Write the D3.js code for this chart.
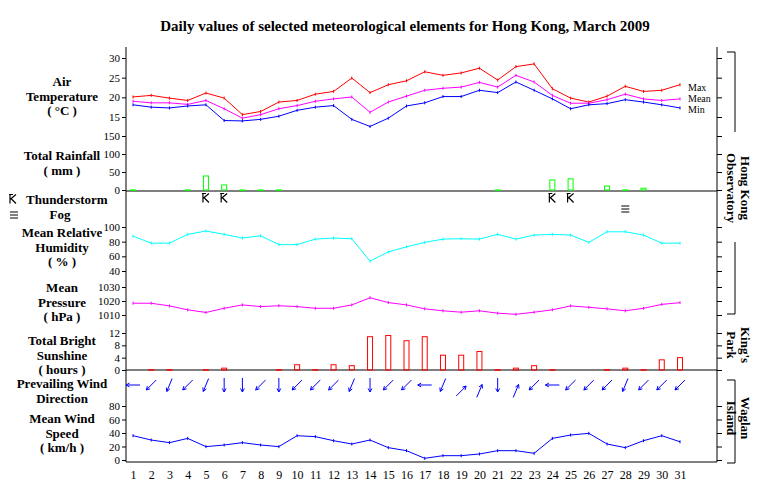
<!DOCTYPE html>
<html><head><meta charset="utf-8">
<script src="https://cdn.jsdelivr.net/npm/d3@7"></script>
<style>body{margin:0;background:#fff}text{font-family:"Liberation Serif",serif}</style>
</head><body><svg id="c" width="760" height="487"></svg>
<script>
const days = d3.range(1, 32);
const tMax = [20.1,20.5,19.8,19.2,21.1,19.8,15.6,16.4,18.8,19.2,20.8,21.5,24.9,21.2,23.2,24.2,26.5,25.6,26.2,27.4,24.4,27.8,28.5,22.2,19.8,18.8,20.3,22.8,21.5,21.8,23.2];
const tMean = [19.0,18.6,18.6,18.2,19.2,17.1,14.7,15.6,17.1,17.9,19.0,19.6,20.1,16.2,18.8,20.3,21.8,22.3,22.6,23.8,22.6,25.6,23.9,20.5,18.5,18.5,19.4,20.8,19.6,19.2,19.6];
const tMin = [18.1,17.5,17.3,17.8,18.1,14.1,14.0,14.4,15.2,16.7,17.5,17.9,14.4,12.6,14.7,17.8,18.6,20.2,20.2,21.8,21.2,23.9,21.8,19.6,17.1,18.1,18.4,19.4,18.8,18.1,17.3];
const rain = [0.3,0,0,0.3,39,14,0.1,0.1,0.3,0,0,0,0,0,0,0,0,0,0,0,0.1,0,0,28,31,0,11,0.3,5,0,0];
const thunderDays = [5,6,24,25];
const fogDays = [28];
const humidity = [87.6,78,78,90,94.5,90,85,88,76,76,83.5,85,84,53.5,66,73,79,83.5,84,83.5,90,83.5,89,90,89,79,93.5,93.5,89,78,78];
const pressure = [1018.4,1018.4,1016.5,1013.7,1011.8,1014.8,1017.2,1016,1016.6,1016,1014.8,1014.8,1017.2,1022.3,1018.9,1017.2,1014.4,1013,1012,1013,1011.3,1010.5,1012,1013.7,1016.5,1015.5,1014.4,1013,1014.8,1017.6,1018.8];
const sunshine = [0,0.1,0.1,0,0.1,0.6,0,0,0.1,1.7,0.1,1.7,1.4,10.8,11.2,9.5,10.8,4.8,4.8,6.0,0.1,0.6,1.4,0.1,0,0,0.1,0.6,0.1,3.3,4.0];
// direction wind blows from, degrees
const windDir = [90,45,22.5,45,22.5,0,0,45,0,45,45,45,22.5,0,45,45,90,22.5,225,202.5,0,202.5,45,90,45,45,45,22.5,45,45,45];
const windSpeed = [36,29.6,25.7,32,19.8,22.2,25.7,22.2,19.8,36,34.6,28.6,23.7,29.6,18.3,13.8,2.5,6.4,6.4,8.9,13.8,13.8,9.9,32,37,39.5,23.7,18.3,28.6,36,27];

const tempTicks = [15,20,25,30], rainTicks = [0,50,100,150], humTicks = [40,60,80,100],
  presTicks = [1010,1020,1030], sunTicks = [0,4,8,12], windTicks = [0,20,40,60,80];

const svg = d3.select("#c");
const L = 126, R = 717;
const x = d3.scaleLinear().domain([1, 31]).range([133, 680]);
const yT = d3.scaleLinear().domain([15, 30]).range([117, 58]);
const yR = d3.scaleLinear().domain([0, 150]).range([190, 136]);
const yH = d3.scaleLinear().domain([40, 100]).range([271, 227]);
const yP = d3.scaleLinear().domain([1010, 1030]).range([315, 287]);
const yS = d3.scaleLinear().domain([0, 12]).range([370, 333]);
const yW = d3.scaleLinear().domain([0, 80]).range([460, 406]);

svg.append("text").attr("x", 405).attr("y", 31).attr("text-anchor", "middle")
  .attr("font-weight", "bold").attr("font-size", 15).text("Daily values of selected meteorological elements for Hong Kong, March 2009");

// frame
const fr = svg.append("g").attr("stroke", "#000").attr("fill", "none");
fr.append("line").attr("x1", L).attr("x2", L).attr("y1", 47).attr("y2", 462);
fr.append("line").attr("x1", R).attr("x2", R).attr("y1", 47).attr("y2", 462);
[191, 370, 462].forEach(yy => fr.append("line").attr("x1", L).attr("x2", R).attr("y1", yy).attr("y2", yy));

function axis(scale, ticks) {
  svg.append("g").attr("transform", `translate(${L},0)`)
    .call(d3.axisLeft(scale).tickValues(ticks).tickSize(4).tickSizeOuter(0).tickPadding(2).tickFormat(d3.format("d")))
    .call(g => g.select(".domain").remove())
    .call(g => g.selectAll("text").attr("font-family", "Liberation Sans").attr("font-size", 11));
  svg.append("g").attr("transform", `translate(${R},0)`)
    .call(d3.axisRight(scale).tickValues(ticks).tickSize(5).tickFormat(""))
    .call(g => g.select(".domain").remove());
}
[[yT,tempTicks],[yR,rainTicks],[yH,humTicks],[yP,presTicks],[yS,sunTicks],[yW,windTicks]].forEach(a => axis(a[0], a[1]));

// day labels
svg.append("g").attr("transform", "translate(0,462)")
  .call(d3.axisBottom(x).tickValues(days).tickSize(0).tickPadding(8))
  .call(g => g.select(".domain").remove())
  .call(g => g.selectAll("text").attr("font-family", "Liberation Sans").attr("font-size", 12));

function line(vals, scale, color) {
  svg.append("path").datum(vals).attr("fill", "none").attr("stroke", color)
    .attr("d", d3.line().x((d, i) => x(days[i])).y(d => scale(d)));
  svg.append("g").selectAll("line").data(vals).join("line")
    .attr("x1", (d, i) => x(days[i])).attr("x2", (d, i) => x(days[i]))
    .attr("y1", d => scale(d) - 1.5).attr("y2", d => scale(d) + 1.5).attr("stroke", color);
}
line(tMax, yT, "#f00"); line(tMean, yT, "#f0f"); line(tMin, yT, "#00f");
line(humidity, yH, "#0ff"); line(pressure, yP, "#f0f"); line(windSpeed, yW, "#00f");

[["Max", 88], ["Mean", 99], ["Min", 110]].forEach(l =>
  svg.append("text").attr("x", 688).attr("y", l[1] + 3).attr("font-size", 10).text(l[0]));

function bars(vals, scale, color) {
  svg.append("g").selectAll("rect").data(vals.map((v, i) => [days[i], v]).filter(d => d[1] > 0)).join("rect")
    .attr("x", d => x(d[0]) - 2.5).attr("width", 5)
    .attr("y", d => scale(d[1])).attr("height", d => Math.max(scale(0) - scale(d[1]), 0.5))
    .attr("fill", "none").attr("stroke", color);
}
bars(rain, yR, "#0f0");
bars(sunshine, yS, "#f00");

// thunderstorm and fog symbols
function thunder(cx, cy) {
  svg.append("path").attr("d", `M${cx-4},${cy-4.5}H${cx}M${cx-3},${cy-4.5}V${cy+4.5}M${cx-3},${cy+0.5}L${cx+3},${cy-4.5}M${cx-2},${cy-0.5}L${cx+3},${cy+4.5}`)
    .attr("stroke", "#000").attr("fill", "none").attr("stroke-width", 1.2);
}
function fog(cx, cy) {
  svg.append("path").attr("d", `M${cx-4},${cy-3}h8M${cx-4},${cy}h8M${cx-4},${cy+3}h8`)
    .attr("stroke", "#000").attr("stroke-width", 1.2);
}
thunderDays.forEach(d => thunder(x(d), 198));
fogDays.forEach(d => fog(x(d), 209));

// wind direction arrows
const ag = svg.append("g").attr("stroke", "#00f").attr("fill", "none");
windDir.forEach((dir, i) => {
  const a = (dir + 180) * Math.PI / 180; // direction arrow points to
  const dx = Math.sin(a), dy = -Math.cos(a), len = 14;
  const cx = x(days[i]), cy = dir > 135 && dir < 270 ? 391 : 385;
  const x2 = cx + dx * len / 2, y2 = cy + dy * len / 2;
  const x1 = cx - dx * len / 2, y1 = cy - dy * len / 2;
  const h = 4, s = 0.5;
  const p1 = [x2 - h * (dx * Math.cos(s) - dy * Math.sin(s)), y2 - h * (dy * Math.cos(s) + dx * Math.sin(s))];
  const p2 = [x2 - h * (dx * Math.cos(-s) - dy * Math.sin(-s)), y2 - h * (dy * Math.cos(-s) + dx * Math.sin(-s))];
  ag.append("path").attr("d", `M${x1},${y1}L${x2},${y2}M${p1}L${x2},${y2}L${p2}`);
});

// left labels
const labels = [
  [["Air", "Temperature", "( °C )"], 86],
  [["Total Rainfall", "( mm )"], 160],
  [["Mean Relative", "Humidity", "( % )"], 237],
  [["Mean", "Pressure", "( hPa )"], 292],
  [["Total Bright", "Sunshine", "( hours )"], 345],
  [["Prevailing Wind", "Direction"], 388],
  [["Mean Wind", "Speed", "( km/h )"], 423]
];
labels.forEach(l => {
  const t = svg.append("text").attr("x", 62).attr("y", l[1]).attr("text-anchor", "middle")
    .attr("font-weight", "bold").attr("font-size", 13);
  l[0].forEach((s, i) => t.append("tspan").attr("x", 62).attr("dy", i ? 14.5 : 0).text(s));
});
thunder(13, 199);
svg.append("text").attr("x", 26).attr("y", 204).attr("font-weight", "bold").attr("font-size", 13).text("Thunderstorm");
fog(14, 215);
svg.append("text").attr("x", 60).attr("y", 219).attr("text-anchor", "middle").attr("font-weight", "bold").attr("font-size", 13).text("Fog");

// right brackets and station names
const br = svg.append("g").attr("stroke", "#000").attr("fill", "none");
br.append("path").attr("d", "M727,52H735V132");
br.append("path").attr("d", "M735,242V314H727");
br.append("path").attr("d", "M727,380H735V463H727");
function vlabel(lines, cy) {
  const t = svg.append("text").attr("transform", `translate(738,${cy}) rotate(90)`)
    .attr("text-anchor", "middle").attr("font-weight", "bold").attr("font-size", 13);
  lines.forEach((s, i) => t.append("tspan").attr("x", 0).attr("dy", i ? 14 : -3).text(s));
}
vlabel(["Hong Kong", "Observatory"], 188);
vlabel(["King's", "Park"], 345);
vlabel(["Waglan", "Island"], 418);
</script></body></html>
